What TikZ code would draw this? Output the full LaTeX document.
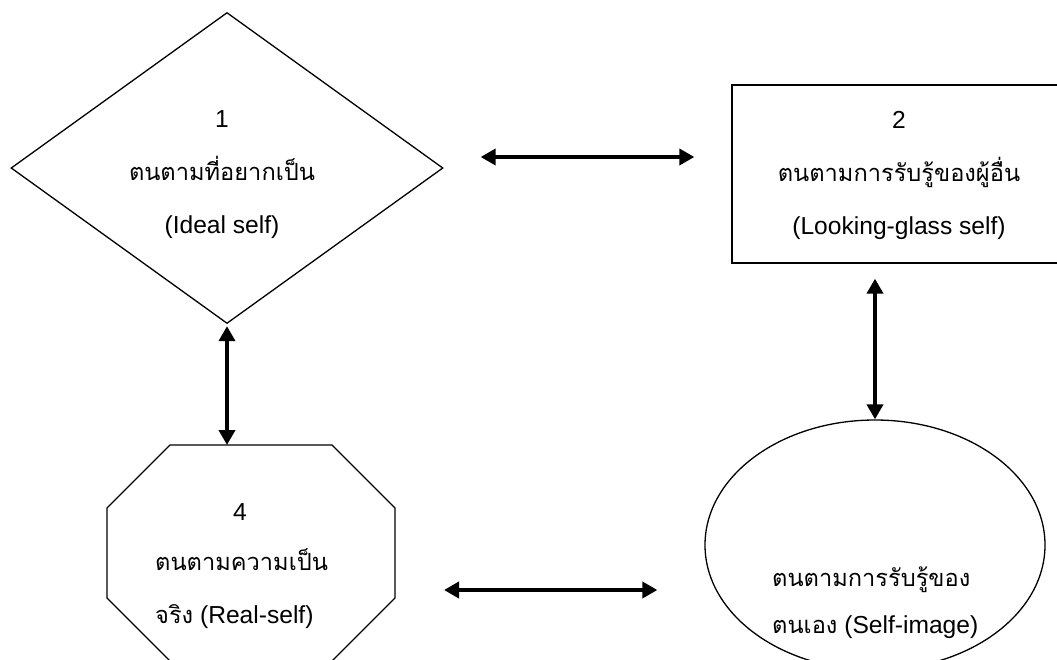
\documentclass[tikz,border=0pt]{standalone}
\usepackage{fontspec}
\setmainfont{Liberation Sans}
\newfontfamily\thaifont[Script=Thai,Scale=0.96]{Loma}
\usetikzlibrary{shapes.geometric,arrows.meta}

\begin{document}
\begin{tikzpicture}
[x=1pt,y=-1pt,
 shapeline/.style={draw=black,line width=1.3pt,inner sep=0pt},
 twoway/.style={{Triangle[length=15pt,width=16pt]}-{Triangle[length=15pt,width=16pt]},black,line width=4pt},
 txt/.style={font=\fontsize{24.6}{53}\selectfont,inner sep=0pt}]

\useasboundingbox (0,0) rectangle (1057,659);
\clip (0,0) rectangle (1057,659);

% ideal self
\node[shapeline,diamond,minimum width=432pt,minimum height=311pt](ideal) at (227,168){};
\node[txt,align=center](idealtxt) at (222,175){1\\{\thaifont ตนตามที่อยากเป็น}\\(Ideal self)};

% looking-glass self
\node[shapeline,rectangle,minimum width=334pt,minimum height=178pt](looking) at (899,174){};
\node[txt,align=center](lookingtxt) at (899,175){2\\{\thaifont ตนตามการรับรู้ของผู้อื่น}\\(Looking-glass self)};

% real self
\draw[shapeline] (170,445) -- (332,445) -- (395,508) -- (395,598) -- (332,661) -- (170,661) -- (107,598) -- (107,508) -- cycle;
\coordinate (realtop) at (251,445);
\coordinate (realright) at (395,590);
\node[txt](realnum) at (240,512){4};
\node[txt,align=left,anchor=west](realtxt) at (155,589){{\thaifont ตนตามความเป็น}\\{\thaifont จริง} (Real-self)};

% self image
\node[shapeline,ellipse,minimum width=340pt,minimum height=250pt](selfimg) at (875,545){};
\node[txt,align=left,anchor=west,font=\fontsize{24.6}{47}\selectfont](selfimgtxt) at (772,603){{\thaifont ตนตามการรับรู้ของ}\\{\thaifont ตนเอง} (Self-image)};

% arrows
\draw[twoway,shorten <=37pt,shorten >=37pt] ([yshift=11pt]ideal.east) -- ([yshift=11pt]ideal.east -| looking.west);
\draw[twoway,shorten <=2pt] (ideal.south) -- (ideal.south |- realtop);
\draw[twoway,shorten <=15pt] (selfimg.north |- looking.south) -- (selfimg.north);
\draw[twoway,shorten <=49pt,shorten >=47pt] (realright) -- (realright -| selfimg.west);

\end{tikzpicture}
\end{document}
